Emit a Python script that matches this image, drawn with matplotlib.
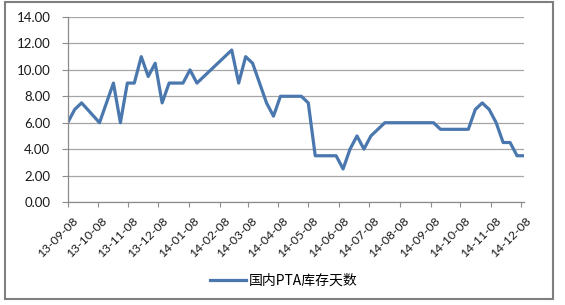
import matplotlib
matplotlib.use("Agg")
import matplotlib.pyplot as plt
import matplotlib.dates as mdates
import matplotlib.transforms as mtrans
from matplotlib.patches import Rectangle
import pandas as pd

dates = ['2013-09-08', '2013-09-15', '2013-09-22', '2013-10-10', '2013-10-17', '2013-10-24',
         '2013-10-31', '2013-11-07', '2013-11-14', '2013-11-21', '2013-11-28', '2013-12-05',
         '2013-12-12', '2013-12-19', '2013-12-26',
         '2014-01-02', '2014-01-09', '2014-01-16', '2014-02-20', '2014-02-27',
         '2014-03-06', '2014-03-13', '2014-03-20', '2014-03-27',
         '2014-04-03', '2014-04-10', '2014-04-17', '2014-04-24',
         '2014-05-01', '2014-05-08', '2014-05-15', '2014-05-22', '2014-05-29',
         '2014-06-05', '2014-06-12', '2014-06-19', '2014-06-26',
         '2014-07-03', '2014-07-10', '2014-07-17', '2014-07-24', '2014-07-31',
         '2014-08-07', '2014-08-14', '2014-08-21', '2014-08-28',
         '2014-09-04', '2014-09-11', '2014-09-18', '2014-09-25',
         '2014-10-02', '2014-10-09', '2014-10-16', '2014-10-23', '2014-10-30',
         '2014-11-06', '2014-11-13', '2014-11-20', '2014-11-27',
         '2014-12-04', '2014-12-11']

values = [6.0, 7.0, 7.5, 6.0, 7.5, 9.0, 6.0, 9.0, 9.0, 11.0, 9.5, 10.5, 7.5, 9.0, 9.0,
          9.0, 10.0, 9.0, 11.5, 9.0,
          11.0, 10.5, 9.0, 7.5,
          6.5, 8.0, 8.0, 8.0,
          8.0, 7.5, 3.5, 3.5, 3.5,
          3.5, 2.5, 4.0, 5.0,
          4.0, 5.0, 5.5, 6.0, 6.0,
          6.0, 6.0, 6.0, 6.0,
          6.0, 6.0, 5.5, 5.5,
          5.5, 5.5, 5.5, 7.0, 7.5,
          7.0, 6.0, 4.5, 4.5,
          3.5, 3.5]

tick_dates = ['2013-09-08', '2013-10-08', '2013-11-08', '2013-12-08', '2014-01-08',
              '2014-02-08', '2014-03-08', '2014-04-08', '2014-05-08', '2014-06-08',
              '2014-07-08', '2014-08-08', '2014-09-08', '2014-10-08', '2014-11-08',
              '2014-12-08']
y_ticks = [0, 2, 4, 6, 8, 10, 12, 14]
series_name = '国内PTA库存天数'

plt.rcParams['font.family'] = ['Lato', 'Noto Sans CJK SC', 'DejaVu Sans']

W, H = 565, 305
fig = plt.figure(figsize=(W / 100, H / 100), dpi=100)
ax = fig.add_axes([67.7 / W, 1 - 202 / H, (524 - 67.7) / W, (202 - 17) / H])

x = pd.to_datetime(dates)
line, = ax.plot(x, values, color='#4A78AE', linewidth=2.3, solid_joinstyle='round',
                label=series_name)

ax.set_xlim(pd.Timestamp('2013-09-08'), pd.Timestamp('2014-12-11'))
ax.set_ylim(0, 14)
ax.set_yticks(y_ticks)
ax.yaxis.set_major_formatter(matplotlib.ticker.FormatStrFormatter('%.2f'))
ax.set_xticks(pd.to_datetime(tick_dates))
ax.xaxis.set_major_formatter(mdates.DateFormatter('%y-%m-%d'))

ax.grid(axis='y', color='#a6a6a6', linewidth=0.9)
ax.set_axisbelow(True)
for s in ['top', 'right']:
    ax.spines[s].set_visible(False)
for s in ['left', 'bottom']:
    ax.spines[s].set_color('#8c8c8c')
    ax.spines[s].set_linewidth(0.9)

ax.tick_params(axis='y', length=4.5, color='#8c8c8c', pad=8, labelsize=9.5, labelcolor='#1a1a1a')
ax.tick_params(axis='x', length=3.5, color='#8c8c8c', pad=1, labelsize=8.8, labelcolor='#1a1a1a')
offset = mtrans.ScaledTranslation(4 / 100, -7 / 100, fig.dpi_scale_trans)
for lab in ax.get_xticklabels():
    lab.set_rotation(45)
    lab.set_ha('right')
    lab.set_va('top')
    lab.set_rotation_mode('anchor')
    lab.set_transform(lab.get_transform() + offset)

fig.legend(handles=[line], labels=[series_name], loc='center',
           bbox_to_anchor=(284 / W, 1 - 281 / H), frameon=False,
           handlelength=2.6, handletextpad=0.2,
           prop={'family': ['Noto Sans CJK SC', 'DejaVu Sans'], 'size': 10})

fig.patches.append(Rectangle((5 / W, 1 - 299 / H), 548 / W, 297 / H,
                             transform=fig.transFigure, fill=False,
                             edgecolor='#7f7f7f', linewidth=1.5))

fig.savefig('out.png', dpi=100)
